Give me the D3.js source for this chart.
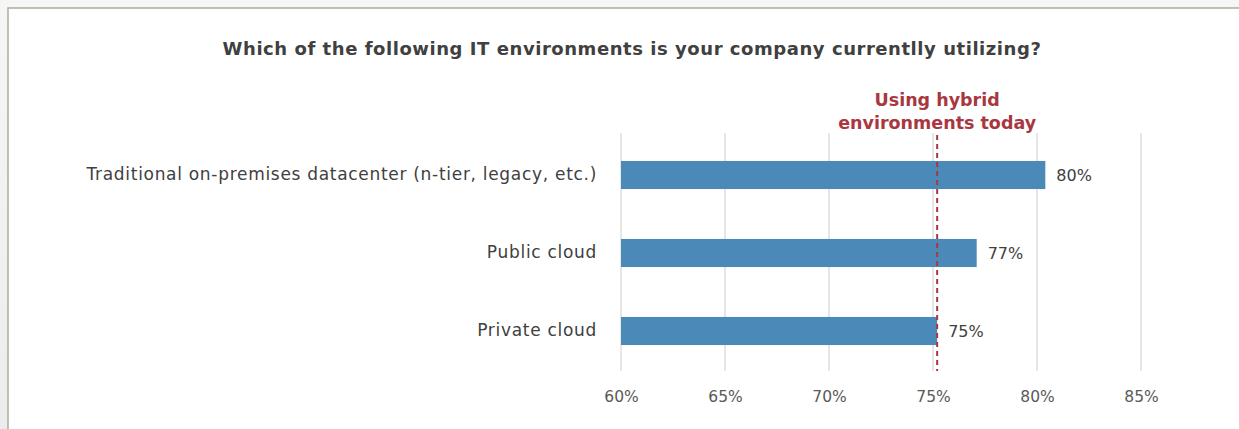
<!DOCTYPE html>
<html>
<head>
<meta charset="utf-8">
<script src="https://cdn.jsdelivr.net/npm/d3@7"></script>
<style>
  html, body { margin: 0; padding: 0; background: #f1f1f1; }
  svg { display: block; }
</style>
</head>
<body>
<svg id="chart" width="1239" height="429"></svg>
<script>
// Survey responses: share of companies using each IT environment
const categories = [
  "Traditional on-premises datacenter (n-tier, legacy, etc.)",
  "Public cloud",
  "Private cloud"
];
const values = [80.4, 77.1, 75.2];
const tickValues = [60, 65, 70, 75, 80, 85];
const hybridShare = 75.2;
const titleText = "Which of the following IT environments is your company currentlly utilizing?";
const annotationLines = ["Using hybrid", "environments today"];

const W = 1239, H = 429;
const svg = d3.select("#chart");
const font = "'DejaVu Sans', sans-serif";

// Panel with a thin tan border, running off the right and bottom edges
const bg = svg.append("defs").append("linearGradient")
  .attr("id", "edge").attr("x1", 0).attr("y1", 0).attr("x2", 0).attr("y2", 1);
bg.append("stop").attr("offset", 0).attr("stop-color", "#f6f6f6");
bg.append("stop").attr("offset", 1).attr("stop-color", "#ececec");
svg.append("rect").attr("width", W).attr("height", H).attr("fill", "url(#edge)");
svg.append("rect")
  .attr("x", 8).attr("y", 8).attr("width", W + 10).attr("height", H + 10)
  .attr("fill", "#ffffff").attr("stroke", "#b3b0a0").attr("stroke-width", 1.6);

const margin = { left: 621, right: 98, top: 136, bottom: 59 };
const x = d3.scaleLinear().domain([60, 85]).range([margin.left, W - margin.right]);
const y = d3.scaleBand().domain(categories)
  .range([margin.top, H - margin.bottom]).paddingInner(0.64).paddingOuter(0.32);

// Vertical gridlines
svg.append("g").selectAll("line").data(tickValues).join("line")
  .attr("x1", d => x(d)).attr("x2", d => x(d))
  .attr("y1", margin.top - 3).attr("y2", H - margin.bottom + 1)
  .attr("stroke", "#d9d9d9").attr("stroke-width", 1.3);

// X axis tick labels
const xAxis = d3.axisBottom(x).tickValues(tickValues)
  .tickFormat(d => d + "%").tickSize(0).tickPadding(21);
const gx = svg.append("g")
  .attr("transform", `translate(0,${H - margin.bottom})`)
  .call(xAxis);
gx.select(".domain").remove();
gx.selectAll("text")
  .attr("font-family", font).attr("font-size", 15.5)
  .attr("fill", "#595959");

// Category labels
const yAxis = d3.axisLeft(y).tickSize(0).tickPadding(24);
const gy = svg.append("g").attr("transform", `translate(${margin.left},0)`).call(yAxis);
gy.select(".domain").remove();
gy.selectAll("text")
  .attr("font-family", font).attr("font-size", 17)
  .attr("letter-spacing", 0.7)
  .attr("fill", "#404040");

// Bars
svg.append("g").selectAll("rect").data(values).join("rect")
  .attr("x", x(60))
  .attr("y", (d, i) => y(categories[i]))
  .attr("width", d => x(d) - x(60))
  .attr("height", y.bandwidth())
  .attr("fill", "#4a89b8");

// Value labels
svg.append("g").selectAll("text").data(values).join("text")
  .attr("x", d => x(d) + 11)
  .attr("y", (d, i) => y(categories[i]) + y.bandwidth() / 2)
  .attr("dy", "0.35em")
  .attr("font-family", font).attr("font-size", 16)
  .attr("fill", "#404040")
  .text(d => d3.format(".0f")(d) + "%");

// Hybrid reference line
svg.append("line")
  .attr("x1", x(hybridShare)).attr("x2", x(hybridShare))
  .attr("y1", margin.top - 1).attr("y2", H - margin.bottom + 1)
  .attr("stroke", "#a9373f").attr("stroke-width", 2)
  .attr("stroke-dasharray", "5,4");

svg.append("text")
  .attr("x", x(hybridShare)).attr("y", 106)
  .attr("text-anchor", "middle")
  .attr("font-family", font).attr("font-size", 17.5).attr("font-weight", "bold")
  .attr("fill", "#a9373f")
  .selectAll("tspan").data(annotationLines).join("tspan")
  .attr("x", x(hybridShare)).attr("dy", (d, i) => i ? 23 : 0)
  .text(d => d);

// Title
svg.append("text")
  .attr("x", 632).attr("y", 55)
  .attr("text-anchor", "middle")
  .attr("font-family", font).attr("font-size", 18).attr("font-weight", "bold")
  .attr("letter-spacing", 0.55)
  .attr("fill", "#404040")
  .text(titleText);
</script>
</body>
</html>
